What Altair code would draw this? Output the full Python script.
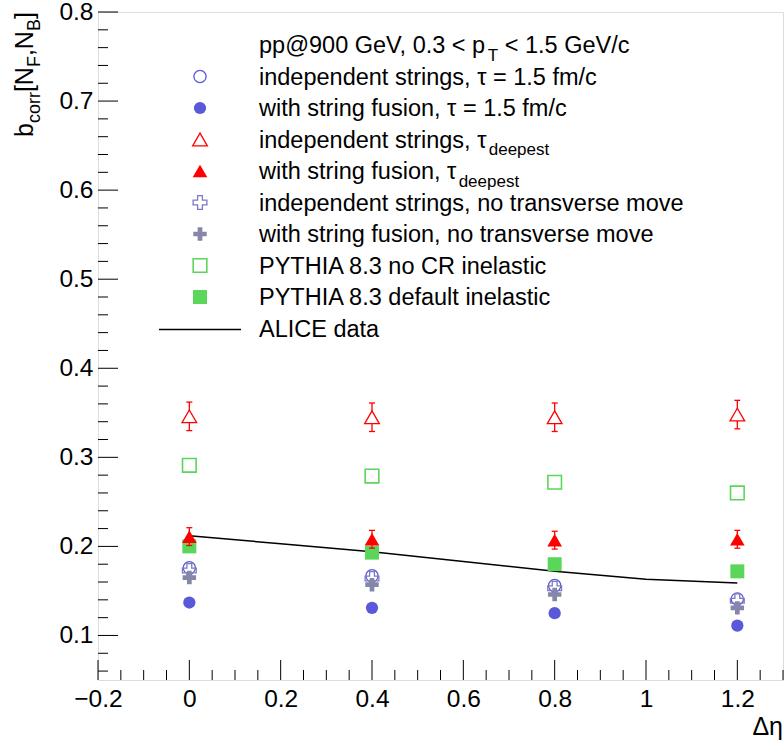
import altair as alt
import numpy as np
import pandas as pd

# ---------------- data ----------------
deta = [0.0, 0.4, 0.8, 1.2]
indep_tau15 = [0.176, 0.167, 0.156, 0.141]
fusion_tau15 = [0.137, 0.131, 0.125, 0.111]
indep_deepest = [0.346, 0.345, 0.345, 0.348]
indep_deepest_err = [0.016, 0.016, 0.016, 0.016]
fusion_deepest = [0.211, 0.208, 0.207, 0.208]
fusion_deepest_err = [0.010, 0.010, 0.010, 0.010]
indep_notrans = [0.173, 0.164, 0.153, 0.139]
fusion_notrans = [0.165, 0.157, 0.146, 0.131]
pythia_nocr = [0.291, 0.279, 0.272, 0.260]
pythia_default = [0.200, 0.193, 0.180, 0.172]
alice_deta = [0.0, 0.2, 0.4, 0.6, 0.8, 1.0, 1.2]
alice_b = [0.212, 0.203, 0.194, 0.183, 0.172, 0.163, 0.159]

x_ticks = [-0.2, 0.0, 0.2, 0.4, 0.6, 0.8, 1.0, 1.2]
y_ticks = [0.1, 0.2, 0.3, 0.4, 0.5, 0.6, 0.7, 0.8]

legend_header = ["pp@900 GeV, 0.3 < p", "T", " < 1.5 GeV/c"]
legend_labels = [
    ("independent strings, τ = 1.5 fm/c", ""),
    ("with string fusion, τ = 1.5 fm/c", ""),
    ("independent strings, τ", "deepest"),
    ("with string fusion, τ", "deepest"),
    ("independent strings, no transverse move", ""),
    ("with string fusion, no transverse move", ""),
    ("PYTHIA 8.3 no CR inelastic", ""),
    ("PYTHIA 8.3 default inelastic", ""),
    ("ALICE data", ""),
]

# ---------------- layout / style ----------------
W, H = 685, 668
FONT = "Liberation Sans"
BLUE = "#5959d9"
RED = "#ff0000"
GREEN = "#5ad65a"
CROSS_OPEN = "#7b7bc4"
CROSS_FILL = "#8686a8"
PLUS = "M-1,-0.35H-0.35V-1H0.35V-0.35H1V0.35H0.35V1H-0.35V0.35H-1Z"
CAP = "M-1,0L1,0"

xscale = alt.Scale(domain=[-0.2, 1.3], nice=False, zero=False)
yscale = alt.Scale(domain=[0.05, 0.8], nice=False, zero=False)
xaxis = alt.Axis(values=x_ticks, format="~g", ticks=False, tickSize=0, domain=False,
                 grid=False, title=None, labelFont=FONT, labelFontSize=24.5,
                 labelColor="black", labelPadding=7, labelFlush=False)
yaxis = alt.Axis(values=y_ticks, format=".1f", ticks=False, tickSize=0, domain=False,
                 grid=False, title=None, labelFont=FONT, labelFontSize=24.5,
                 labelColor="black", labelPadding=5, labelFlush=False)


def X(f):
    return alt.X(f, type="quantitative", scale=xscale, axis=xaxis)


def Y(f):
    return alt.Y(f, type="quantitative", scale=yscale, axis=yaxis)


# Arial / Liberation Sans advance widths (per 1000 em)
AW = {" ": 278, ",": 278, ".": 278, "/": 278, "<": 584, "=": 584, "@": 1015,
      "[": 278, "]": 278, "A": 667, "B": 667, "C": 722, "E": 667, "F": 611,
      "G": 778, "H": 722, "I": 278, "L": 556, "N": 722, "P": 667, "R": 722,
      "T": 611, "V": 667, "Y": 667, "a": 556, "b": 556, "c": 500, "d": 556,
      "e": 556, "f": 278, "g": 556, "h": 556, "i": 222, "l": 222, "m": 833,
      "n": 556, "o": 556, "p": 556, "r": 333, "s": 500, "t": 278, "u": 556,
      "v": 500, "w": 722, "x": 500, "y": 500, "τ": 450}


def tw(s, size):
    return sum(AW.get(c, 556) for c in s) * size / 1000.0


layers = []

# ALICE line (drawn first, beneath markers)
alice_df = pd.DataFrame({"x": alice_deta, "y": alice_b})
layers.append(alt.Chart(alice_df).mark_line(color="black", strokeWidth=1.5)
              .encode(x=X("x"), y=Y("y")))

series = [
    (pythia_nocr, None, dict(shape="square", size=185, filled=False, color=GREEN, strokeWidth=1.6)),
    (pythia_default, None, dict(shape="square", size=195, filled=True, color=GREEN)),
    (indep_tau15, None, dict(shape="circle", size=150, filled=False, color=BLUE, strokeWidth=1.3)),
    (fusion_tau15, None, dict(shape="circle", size=150, filled=True, color=BLUE)),
    (indep_notrans, None, dict(shape=PLUS, size=190, filled=False, color=CROSS_OPEN, strokeWidth=1.3)),
    (fusion_notrans, None, dict(shape=PLUS, size=180, filled=True, color=CROSS_FILL)),
    (indep_deepest, indep_deepest_err, dict(shape="triangle-up", size=215, filled=True,
                                            fill="white", stroke=RED, strokeWidth=1.3)),
    (fusion_deepest, fusion_deepest_err, dict(shape="triangle-up", size=215, filled=True, color=RED)),
]

for vals, errs, sty in series:
    df = pd.DataFrame({"x": deta, "y": vals})
    col = sty.get("color", sty.get("stroke"))
    if errs is not None:
        df["lo"] = [v - e for v, e in zip(vals, errs)]
        df["hi"] = [v + e for v, e in zip(vals, errs)]
        layers.append(alt.Chart(df).mark_rule(color=col, strokeWidth=1.3)
                      .encode(x=X("x"), y=Y("lo"), y2="hi"))
        for c in ("lo", "hi"):
            layers.append(alt.Chart(df).mark_point(shape=CAP, size=36, filled=False,
                                                   color=col, strokeWidth=1.3, opacity=1)
                          .encode(x=X("x"), y=Y(c)))
    layers.append(alt.Chart(df).mark_point(opacity=1, **sty).encode(x=X("x"), y=Y("y")))

# Inward tick marks (ROOT style)
y_minor = [round(v, 2) for v in np.arange(0.06, 0.8001, 0.02) if round(v * 100) % 10 != 0]
x_minor = [round(v, 2) for v in np.arange(-0.15, 1.3001, 0.05) if abs(round(v * 20) % 4) != 0]
for vals, ln in ((y_ticks, 20), (y_minor, 10)):
    layers.append(alt.Chart(pd.DataFrame({"v": vals})).mark_rule(color="black", strokeWidth=1)
                  .encode(y=Y("v"), x=alt.value(0), x2=alt.value(ln)))
for vals, ln in ((x_ticks, 20), (x_minor, 10)):
    layers.append(alt.Chart(pd.DataFrame({"v": vals})).mark_rule(color="black", strokeWidth=1)
                  .encode(x=X("v"), y=alt.value(H), y2=alt.value(H - ln)))

# ---------------- legend (text with sub-scripts) ----------------
one = pd.DataFrame({"a": [0]})
LX_TEXT = 259 - 98
LX_MARK = 200 - 98
BASE0 = 53 - 12
STEP = 31.5
FS = 23.5
FSUB = 17


def text_layer(txt, x, y, size=FS, **kw):
    lead = len(txt) - len(txt.lstrip(" "))
    x = x + tw(" " * lead, size)
    return (alt.Chart(one).mark_text(text=txt.strip(" "), font=FONT, fontSize=size, color="black",
                                     align=kw.pop("align", "left"),
                                     baseline=kw.pop("baseline", "alphabetic"), **kw)
            .encode(x=alt.value(x), y=alt.value(y)))


# header
hx = LX_TEXT
layers.append(text_layer(legend_header[0], hx, BASE0))
hx += tw(legend_header[0], FS) + 0.5
layers.append(text_layer(legend_header[1], hx, BASE0 + 8, FSUB))
hx += tw(legend_header[1], FSUB)
layers.append(text_layer(legend_header[2], hx, BASE0))

mark_order = [2, 3, 6, 7, 4, 5, 0, 1]  # index into series for rows 1..8
for i, (main, sub) in enumerate(legend_labels):
    yb = BASE0 + STEP * (i + 1)
    layers.append(text_layer(main, LX_TEXT, yb))
    if sub:
        layers.append(text_layer(sub, LX_TEXT + tw(main, FS) + 1, yb + 7.5, FSUB))
    ym = yb - 8
    if i < 8:
        sty = dict(series[mark_order[i]][2])
        layers.append(alt.Chart(one).mark_point(opacity=1, **sty)
                      .encode(x=alt.value(LX_MARK), y=alt.value(ym)))
    else:
        layers.append(alt.Chart(one).mark_rule(color="black", strokeWidth=1.3)
                      .encode(x=alt.value(LX_MARK - 41), x2=alt.value(LX_MARK + 41),
                              y=alt.value(yb - 7)))

# ---------------- axis titles ----------------
layers.append(text_layer("Δη", W, H + 55, 25, align="right"))

title_parts = [("b", False), ("corr", True), ("[N", False), ("F", True),
               (",N", False), ("B", True), ("]", False)]
ty = 137 - 12
for s, is_sub in title_parts:
    size = 18 if is_sub else 25
    xb = (40 if is_sub else 33) - 98
    layers.append(text_layer(s, xb, ty, size, angle=270))
    ty -= tw(s, size)

chart = (alt.layer(*layers)
         .properties(width=W, height=H,
                     autosize=alt.AutoSizeParams(type="none"),
                     padding={"left": 98, "top": 12, "right": 1, "bottom": 64})
         .configure_view(stroke="black", strokeWidth=1)
         .configure(background="white"))

chart.save("out.html", embed_options={"renderer": "svg", "actions": False})
